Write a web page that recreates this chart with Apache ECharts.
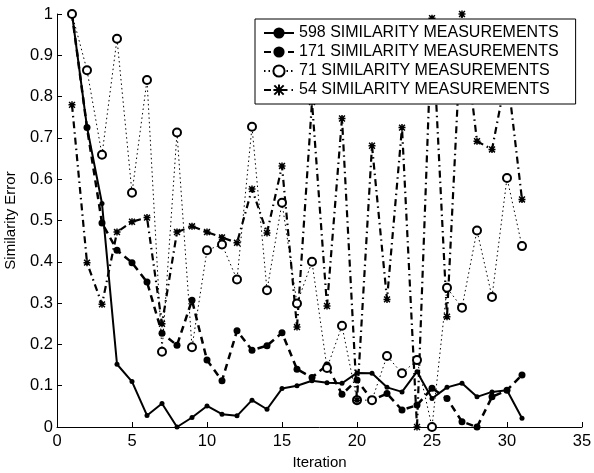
<!DOCTYPE html>
<html>
<head>
<meta charset="utf-8">
<script src="https://cdn.jsdelivr.net/npm/echarts@6/dist/echarts.min.js"></script>
<style>
  html, body { margin: 0; padding: 0; background: #fff; }
  #main { width: 594px; height: 473px; }
</style>
</head>
<body>
<div id="main"></div>
<script>
// iteration numbers (x)
const iterations = [1, 2, 3, 4, 5, 6, 7, 8, 9, 10, 11, 12, 13, 14, 15, 16,
  17, 18, 19, 20, 21, 22, 23, 24, 25, 26, 27, 28, 29, 30, 31];

// similarity error for each run
const err598 = [1.0, 0.726, 0.541, 0.152, 0.11, 0.028, 0.057, 0.0, 0.023, 0.051,
  0.031, 0.027, 0.065, 0.043, 0.093, 0.10, 0.112, 0.107, 0.106, 0.131,
  0.13, 0.096, 0.085, 0.134, 0.069, 0.096, 0.106, 0.073, 0.085, 0.089, 0.021];
const err171 = [1.0, 0.725, 0.494, 0.428, 0.398, 0.351, 0.227, 0.198, 0.307, 0.162,
  0.112, 0.233, 0.186, 0.197, 0.228, 0.140, 0.12, 0.15, 0.079, 0.114,
  0.065, 0.081, 0.041, 0.053, 0.094, 0.069, 0.013, 0.0, 0.073, 0.089, 0.126];
const err71 = [1.0, 0.864, 0.659, 0.94, 0.567, 0.84, 0.182, 0.713, 0.193, 0.428,
  0.442, 0.357, 0.727, 0.331, 0.543, 0.299, 0.40, 0.143, 0.245, 0.065,
  0.065, 0.172, 0.13, 0.162, 0.0, 0.337, 0.289, 0.476, 0.315, 0.603, 0.438];
const err54 = [0.78, 0.398, 0.297, 0.472, 0.497, 0.507, 0.25, 0.472, 0.486, 0.472,
  0.459, 0.446, 0.576, 0.470, 0.632, 0.242, 0.787, 0.293, 0.747, 0.065,
  0.681, 0.309, 0.725, 0.0, 0.99, 0.267, 1.0, 0.692, 0.672, 0.86, 0.551];

const names = [
  "598 SIMILARITY MEASUREMENTS",
  "171 SIMILARITY MEASUREMENTS",
  "71 SIMILARITY MEASUREMENTS",
  "54 SIMILARITY MEASUREMENTS"
];

const xTicks = [0, 5, 10, 15, 20, 25, 30, 35];

function pairs(vals) {
  return iterations.map((it, i) => [it, vals[i]]);
}

const font = "Liberation Sans, Helvetica, Arial, sans-serif";
const asterisk = "path://M0,0L10,10M10,0L0,10M5,-1L5,11M-1,5L11,5";

let myChart = echarts.init(document.getElementById("main"));

let option = {
  animation: false,
  backgroundColor: "#fff",
  textStyle: { fontFamily: font, color: "#000" },
  grid: { left: 57, right: 12, top: 14, bottom: 46, outerBoundsMode: "none", containLabel: false },
  legend: {
    left: 255,
    top: 19,
    orient: "vertical",
    data: names,
    backgroundColor: "#fff",
    borderColor: "#000",
    borderWidth: 1,
    borderRadius: 0,
    padding: [5, 17, 5, 8],
    itemWidth: 30,
    itemHeight: 14,
    itemGap: 1,
    textStyle: { fontFamily: font, fontSize: 16, lineHeight: 18, color: "#000" }
  },
  xAxis: {
    type: "value",
    min: xTicks[0],
    max: xTicks[xTicks.length - 1],
    interval: 5,
    name: "Iteration",
    nameLocation: "middle",
    nameGap: 27,
    nameTextStyle: { fontFamily: font, fontSize: 15, color: "#000" },
    axisLine: { lineStyle: { color: "#000", width: 1 } },
    axisTick: { inside: true, length: 5, lineStyle: { color: "#000" } },
    axisLabel: { margin: 6, fontFamily: font, fontSize: 16.5, color: "#000" },
    splitLine: { show: false }
  },
  yAxis: {
    type: "value",
    min: 0,
    max: 1,
    interval: 0.1,
    name: "Similarity Error",
    nameLocation: "middle",
    nameGap: 39,
    nameTextStyle: { fontFamily: font, fontSize: 15, color: "#000" },
    axisLine: { lineStyle: { color: "#000", width: 1 } },
    axisTick: { inside: true, length: 5, lineStyle: { color: "#000" } },
    axisLabel: {
      margin: 4,
      fontFamily: font,
      fontSize: 16.5,
      color: "#000",
      formatter: (v) => (v === 0 ? "0" : v === 1 ? "1" : v.toFixed(1))
    },
    splitLine: { show: false }
  },
  series: [
    {
      name: names[0],
      type: "line",
      data: pairs(err598),
      symbol: "circle",
      symbolSize: 5,
      itemStyle: { color: "#000" },
      lineStyle: { color: "#000", width: 2, type: "solid" }
    },
    {
      name: names[1],
      type: "line",
      data: pairs(err171),
      symbol: "circle",
      symbolSize: 7,
      itemStyle: { color: "#000" },
      lineStyle: { color: "#000", width: 2.5, type: [7, 5] }
    },
    {
      name: names[2],
      type: "line",
      data: pairs(err71),
      symbol: "circle",
      symbolSize: 8,
      itemStyle: { color: "#fff", borderColor: "#000", borderWidth: 2 },
      lineStyle: { color: "#000", width: 1, type: [1.5, 3] }
    },
    {
      name: names[3],
      type: "line",
      data: pairs(err54),
      symbol: asterisk,
      symbolSize: 7,
      itemStyle: { color: "#000", borderColor: "#000", borderWidth: 1.5 },
      lineStyle: { color: "#000", width: 2.2, type: [7, 4, 1.5, 4] }
    }
  ]
};

myChart.setOption(option);
</script>
</body>
</html>
